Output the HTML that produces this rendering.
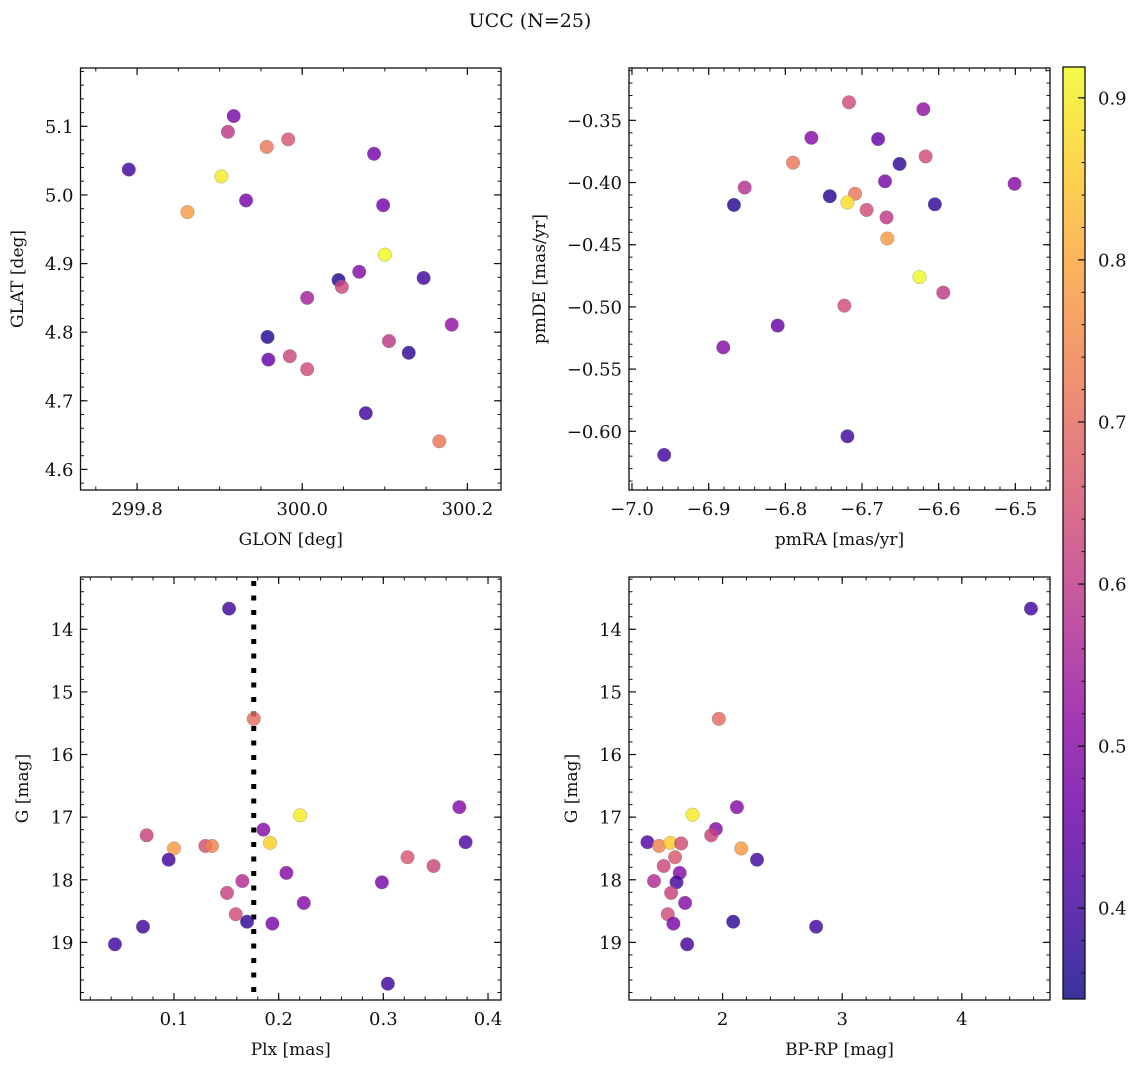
<!DOCTYPE html>
<html>
<head>
<meta charset="utf-8">
<style>
  html,body{margin:0;padding:0;background:#fff;}
  svg{display:block;}
  text{font-family:"DejaVu Serif","Liberation Serif",serif;fill:#111;}
</style>
</head>
<body>
<svg id="fig" width="1136" height="1067" viewBox="0 0 1136 1067" xmlns="http://www.w3.org/2000/svg">
  <text x="530" y="27" font-size="19" text-anchor="middle">UCC (N=25)</text>
</svg>
<script>
// ---------- data: panel 1 (GLON vs GLAT) ----------
const p1Lon = [299.790,299.917,299.910,299.957,299.983,299.902,299.861,299.932,300.087,300.098,300.100,300.044,300.069,300.147,300.006,300.048,300.181,299.958,300.105,300.129,299.959,299.985,300.006,300.077,300.166];
const p1Lat = [5.037,5.115,5.092,5.070,5.081,5.027,4.975,4.992,5.060,4.985,4.913,4.876,4.888,4.879,4.850,4.866,4.811,4.793,4.787,4.770,4.760,4.765,4.746,4.682,4.641];
const p1Prob = [0.40,0.48,0.60,0.72,0.66,0.90,0.78,0.48,0.47,0.47,0.92,0.37,0.50,0.40,0.55,0.63,0.52,0.37,0.60,0.38,0.45,0.63,0.64,0.40,0.72];
// ---------- data: panel 2 (pmRA vs pmDE) ----------
const p2PmRA = [-6.717,-6.620,-6.766,-6.679,-6.617,-6.790,-6.651,-6.670,-6.501,-6.853,-6.742,-6.709,-6.719,-6.867,-6.605,-6.694,-6.668,-6.667,-6.625,-6.594,-6.723,-6.810,-6.881,-6.719,-6.958];
const p2PmDE = [-0.3355,-0.341,-0.364,-0.365,-0.379,-0.384,-0.385,-0.399,-0.401,-0.404,-0.411,-0.409,-0.416,-0.418,-0.4175,-0.422,-0.428,-0.445,-0.476,-0.4885,-0.499,-0.515,-0.5325,-0.604,-0.619];
const p2Prob = [0.64,0.52,0.50,0.45,0.64,0.72,0.38,0.48,0.50,0.58,0.37,0.72,0.88,0.37,0.38,0.64,0.60,0.78,0.92,0.60,0.64,0.45,0.50,0.40,0.40];
// ---------- data: panel 3 (Plx vs G) ----------
const p3Plx = [0.1526,0.1762,0.0739,0.100,0.130,0.1363,0.0949,0.1854,0.2205,0.1918,0.2074,0.1653,0.1507,0.159,0.1698,0.194,0.224,0.0436,0.0704,0.2986,0.3043,0.3231,0.348,0.3726,0.3786];
const p3G = [13.67,15.43,17.29,17.50,17.46,17.46,17.68,17.20,16.97,17.41,17.89,18.02,18.21,18.55,18.67,18.70,18.37,19.03,18.75,18.04,19.66,17.64,17.78,16.84,17.40];
const p3Prob = [0.40,0.70,0.62,0.78,0.64,0.74,0.40,0.50,0.90,0.86,0.50,0.57,0.62,0.64,0.38,0.48,0.50,0.40,0.40,0.48,0.40,0.66,0.63,0.50,0.42];
const p3PlxLine = 0.1762;
// ---------- data: panel 4 (BP-RP vs G) ----------
const p4BPRP = [4.578,1.969,1.749,2.120,1.944,1.905,2.156,2.288,1.372,1.469,1.564,1.654,1.603,1.508,1.642,1.615,1.427,1.570,1.687,1.542,1.589,2.089,1.704,2.782];
const p4G = [13.67,15.43,16.96,16.84,17.19,17.29,17.50,17.68,17.40,17.46,17.41,17.42,17.64,17.78,17.89,18.04,18.02,18.21,18.37,18.55,18.70,18.67,19.03,18.75];
const p4Prob = [0.40,0.70,0.90,0.50,0.50,0.62,0.78,0.40,0.42,0.74,0.86,0.64,0.66,0.63,0.50,0.40,0.57,0.62,0.50,0.64,0.48,0.38,0.40,0.40];
// ---------- tick labels ----------
const p1XTicks = [299.8,300.0,300.2];
const p1YTicks = [4.6,4.7,4.8,4.9,5.0,5.1];
const p2XTicks = [-7.0,-6.9,-6.8,-6.7,-6.6,-6.5];
const p2YTicks = [-0.60,-0.55,-0.50,-0.45,-0.40,-0.35];
const p3XTicks = [0.1,0.2,0.3,0.4];
const gTicks = [14,15,16,17,18,19];
const p4XTicks = [2,3,4];
const cbTicks = [0.4,0.5,0.6,0.7,0.8,0.9];
const cbMin = 0.344, cbMax = 0.919;

const NS = "http://www.w3.org/2000/svg";
const svg = document.getElementById('fig');
function mk(tag, attrs, parent){
  const e = document.createElementNS(NS, tag);
  for (const k in attrs) e.setAttribute(k, attrs[k]);
  (parent||svg).appendChild(e);
  return e;
}
const stops = ["#0d0887","#41049d","#6a00a8","#8f0da4","#b12a90","#cc4778","#e16462","#f2844b","#fca636","#fcce25","#f0f921"];
function hex(h){return [parseInt(h.substr(1,2),16),parseInt(h.substr(3,2),16),parseInt(h.substr(5,2),16)];}
function plasma(t){
  t=Math.max(0,Math.min(1,t));
  const f=t*10, i=Math.min(9,Math.floor(f)), r=f-i;
  const a=hex(stops[i]), b=hex(stops[i+1]);
  return "rgb("+a.map((v,k)=>Math.round(v+(b[k]-v)*r)).join(",")+")";
}
function cmap(v){return plasma((v-cbMin)/(cbMax-cbMin));}
function fmt(v,d){return (v<0?"\u2212":"")+Math.abs(v).toFixed(d);}

function panel(cfg){
  const g = mk('g',{});
  
  
  const L=cfg.x0,R=cfg.x1,T=cfg.y0,B=cfg.y1;
  const sx = v => L + (v-cfg.xmin)/(cfg.xmax-cfg.xmin)*(R-L);
  const sy = cfg.invert ? (v => T + (v-cfg.ymin)/(cfg.ymax-cfg.ymin)*(B-T))
                        : (v => B - (v-cfg.ymin)/(cfg.ymax-cfg.ymin)*(B-T));
  const eps=1e-9;
  for (let v=Math.ceil(cfg.xmin/cfg.xminor-eps)*cfg.xminor; v<=cfg.xmax+eps; v+=cfg.xminor){
    const x=sx(v);
    mk('line',{x1:x,x2:x,y1:B,y2:B-3.5,stroke:'#111','stroke-width':1},g);
    mk('line',{x1:x,x2:x,y1:T,y2:T+3.5,stroke:'#111','stroke-width':1},g);
  }
  const ylo=Math.min(cfg.ymin,cfg.ymax), yhi=Math.max(cfg.ymin,cfg.ymax);
  for (let v=Math.ceil(ylo/cfg.yminor-eps)*cfg.yminor; v<=yhi+eps; v+=cfg.yminor){
    const y=sy(v);
    mk('line',{x1:L,x2:L+3.5,y1:y,y2:y,stroke:'#111','stroke-width':1},g);
    mk('line',{x1:R,x2:R-3.5,y1:y,y2:y,stroke:'#111','stroke-width':1},g);
  }
  cfg.xticks.forEach(v=>{
    const x=sx(v);
    mk('line',{x1:x,x2:x,y1:B,y2:B-7,stroke:'#111','stroke-width':1.2},g);
    mk('line',{x1:x,x2:x,y1:T,y2:T+7,stroke:'#111','stroke-width':1.2},g);
    const t=mk('text',{x:x,y:B+25,'font-size':18,'text-anchor':'middle'},g);
    t.textContent=fmt(v,cfg.xd);
    
    
  });
  cfg.yticks.forEach(v=>{
    const y=sy(v);
    mk('line',{x1:L,x2:L+7,y1:y,y2:y,stroke:'#111','stroke-width':1.2},g);
    mk('line',{x1:R,x2:R-7,y1:y,y2:y,stroke:'#111','stroke-width':1.2},g);
    const t=mk('text',{x:L-7,y:y+6.5,'font-size':18,'text-anchor':'end'},g);
    t.textContent=fmt(v,cfg.yd);
    
    
  });
  if (cfg.vline!==undefined){
    const x=sx(cfg.vline);
    const ln=mk('line',{x1:x,x2:x,y1:T+4,y2:B,stroke:'#000','stroke-width':5,'stroke-dasharray':'5,9.5'},g);
    
    
  }
  cfg.xs.forEach((xv,i)=>{
    const c=mk('circle',{cx:sx(xv),cy:sy(cfg.ys[i]),r:6.8,fill:cmap(cfg.cs[i]),'fill-opacity':0.82,stroke:'#777','stroke-opacity':0.6,'stroke-width':0.5},g);
    
    
  });
  const box=mk('rect',{x:L,y:T,width:R-L,height:B-T,fill:'none',stroke:'#111','stroke-width':1.3},g);
  
  
  const xl=mk('text',{x:(L+R)/2,y:B+55,'font-size':17,'text-anchor':'middle'},g);
  xl.textContent=cfg.xlabel;
  
  
  const yl=mk('text',{x:0,y:0,'font-size':17,'text-anchor':'middle',transform:'translate('+cfg.ylx+','+(T+B)/2+') rotate(-90)'},g);
  yl.textContent=cfg.ylabel;
  
  
}

panel({name:'glon-glat-panel',x0:80.5,x1:501,y0:68,y1:490,xmin:299.7315,xmax:300.2407,ymin:4.570,ymax:5.185,
  xticks:p1XTicks,yticks:p1YTicks,xminor:0.05,yminor:0.02,xd:1,yd:1,xs:p1Lon,ys:p1Lat,cs:p1Prob,
  xlabel:'GLON [deg]',ylabel:'GLAT [deg]',ylx:23});
panel({name:'pm-panel',x0:629,x1:1050,y0:68,y1:490,xmin:-7.0039,xmax:-6.4548,ymin:-0.6472,ymax:-0.3079,
  xticks:p2XTicks,yticks:p2YTicks,xminor:0.02,yminor:0.01,xd:1,yd:2,xs:p2PmRA,ys:p2PmDE,cs:p2Prob,
  xlabel:'pmRA [mas/yr]',ylabel:'pmDE [mas/yr]',ylx:545});
panel({name:'plx-g-panel',x0:80.5,x1:501,y0:577,y1:1000,xmin:0.0107,xmax:0.4124,ymin:13.165,ymax:19.92,invert:true,
  xticks:p3XTicks,yticks:gTicks,xminor:0.02,yminor:0.2,xd:1,yd:0,xs:p3Plx,ys:p3G,cs:p3Prob,vline:p3PlxLine,
  xlabel:'Plx [mas]',ylabel:'G [mag]',ylx:28});
panel({name:'cmd-panel',x0:629,x1:1050,y0:577,y1:1000,xmin:1.218,xmax:4.737,ymin:13.165,ymax:19.92,invert:true,
  xticks:p4XTicks,yticks:gTicks,xminor:0.2,yminor:0.2,xd:0,yd:0,xs:p4BPRP,ys:p4G,cs:p4Prob,
  xlabel:'BP-RP [mag]',ylabel:'G [mag]',ylx:577});

// ---------- colorbar ----------
(function(){
  const L=1063,R=1085,T=67,B=999;
  const g=mk('g',{});
  
  
  const defs=mk('defs',{},g);
  const lg=mk('linearGradient',{id:'cbg',x1:0,y1:1,x2:0,y2:0},defs);
  for(let i=0;i<=20;i++){mk('stop',{offset:(i/20),'stop-color':plasma(i/20)},lg);}
  mk('rect',{x:L,y:T,width:R-L,height:B-T,fill:'url(#cbg)','fill-opacity':0.82},g);
  const sy=v=>B-(v-cbMin)/(cbMax-cbMin)*(B-T);
  for(let v=0.36;v<=cbMax;v+=0.02){const y=sy(v);mk('line',{x1:R,x2:R-3.5,y1:y,y2:y,stroke:'#111','stroke-width':1},g);}
  cbTicks.forEach(v=>{
    const y=sy(v);
    mk('line',{x1:R,x2:R-7,y1:y,y2:y,stroke:'#111','stroke-width':1.2},g);
    const t=mk('text',{x:R+13,y:y+6.5,'font-size':18},g);
    t.textContent=v.toFixed(1);
    
    
  });
  mk('rect',{x:L,y:T,width:R-L,height:B-T,fill:'none',stroke:'#111','stroke-width':1.3},g);
})();
</script>
</body>
</html>
